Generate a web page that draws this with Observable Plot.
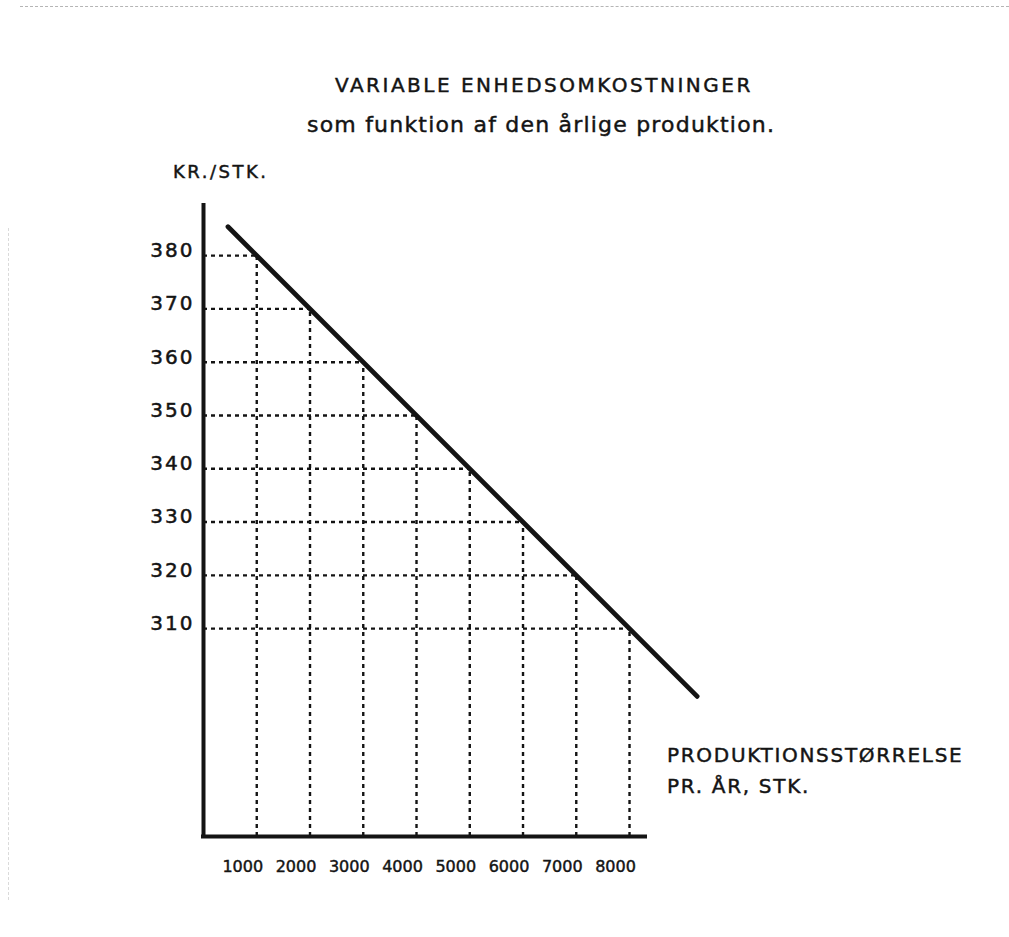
<!DOCTYPE html>
<html>
<head>
<meta charset="utf-8">
<script src="https://cdn.jsdelivr.net/npm/d3@7"></script>
<script src="https://cdn.jsdelivr.net/npm/@observablehq/plot@0.6"></script>
<style>
  html, body { margin: 0; padding: 0; background: #fff; }
  #wrap { position: relative; width: 1009px; height: 937px; font-family: "DejaVu Sans", sans-serif; color: #141414; overflow: hidden; }
  .lbl { position: absolute; white-space: nowrap; line-height: 1; -webkit-text-stroke: 0.45px #141414; }
  #chart svg { position: absolute; left: 0; top: 0; }
  g[aria-label="y-axis tick label"] text { letter-spacing: 2px; stroke: #141414; stroke-width: 0.5px; }
  g[aria-label="x-axis tick label"] text { stroke: #141414; stroke-width: 0.45px; }
  .scan-top { position: absolute; left: 20px; right: 0; top: 6px; border-top: 1px dashed #b5b5b5; }
  .scan-left { position: absolute; left: 8px; top: 228px; height: 672px; border-left: 1px dashed #dadada; }
</style>
</head>
<body>
<div id="wrap">
  <div class="scan-top"></div>
  <div class="scan-left"></div>
  <div id="chart"></div>
  <div class="lbl" style="left:335px; top:75px; font-size:20px; letter-spacing:2.5px;">VARIABLE ENHEDSOMKOSTNINGER</div>
  <div class="lbl" style="left:307px; top:114px; font-size:22px; letter-spacing:1.2px;">som funktion af den årlige produktion.</div>
  <div class="lbl" style="left:173px; top:163px; font-size:18px; letter-spacing:2.5px;">KR./STK.</div>
  <div class="lbl" style="left:667px; top:745px; font-size:20px; letter-spacing:1.7px;">PRODUKTIONSSTØRRELSE</div>
  <div class="lbl" style="left:667px; top:776px; font-size:20px; letter-spacing:1.7px;">PR. ÅR, STK.</div>
</div>
<script>
// Production per year (stk.) at grid points, and matching unit cost (kr./stk.)
const gridX = [1000, 2000, 3000, 4000, 5000, 6000, 7000, 8000];
const gridY = [380, 370, 360, 350, 340, 330, 320, 310];
// Tick labels
const xTicks = [1000, 2000, 3000, 4000, 5000, 6000, 7000, 8000];
const yTicks = [310, 320, 330, 340, 350, 360, 370, 380];
// The cost line, read at its two ends
const lineX = [460, 9270];
const lineY = [385.4, 297.3];
// Axis extents
const xAxisExtent = [0, 8300];
const yAxisExtent = [271, 389.4];

const lineData = lineX.map((x, i) => ({x, y: lineY[i]}));
const grid = gridX.map((x, i) => ({x, y: gridY[i]}));

const ink = "#141414";
const chart = Plot.plot({
  width: 1009,
  height: 937,
  marginLeft: 203,
  marginRight: 364,
  marginTop: 205,
  marginBottom: 101,
  style: { fontFamily: "DejaVu Sans, sans-serif", color: ink, background: "transparent", overflow: "visible" },
  x: { domain: xAxisExtent },
  y: { domain: yAxisExtent },
  marks: [
    // vertical dashed guides from the x-axis up to the line
    Plot.ruleX(grid, { x: "x", y1: yAxisExtent[0], y2: "y", stroke: ink, strokeWidth: 2.4, strokeDasharray: "4,4" }),
    // horizontal dashed guides from the y-axis to the line
    Plot.ruleY(grid, { y: "y", x1: xAxisExtent[0], x2: "x", stroke: ink, strokeWidth: 2.4, strokeDasharray: "4,4" }),
    // the cost line
    Plot.line(lineData, { x: "x", y: "y", stroke: ink, strokeWidth: 4.8, strokeLinecap: "round" }),
    // axis lines
    Plot.ruleX([xAxisExtent[0]], { y1: yAxisExtent[0], y2: yAxisExtent[1], stroke: ink, strokeWidth: 4, strokeLinecap: "square" }),
    Plot.ruleY([yAxisExtent[0]], { x1: xAxisExtent[0], x2: xAxisExtent[1], stroke: ink, strokeWidth: 4, strokeLinecap: "square" }),
    Plot.axisX({ ticks: xTicks, tickSize: 0, tickPadding: 24, dx: -14, fontSize: 16, tickFormat: d => String(d), label: null }),
    Plot.axisY({ ticks: yTicks, tickSize: 0, tickPadding: 9, dy: -5, fontSize: 20, tickFormat: d => String(d), label: null })
  ]
});
document.getElementById("chart").appendChild(chart);
</script>
</body>
</html>
